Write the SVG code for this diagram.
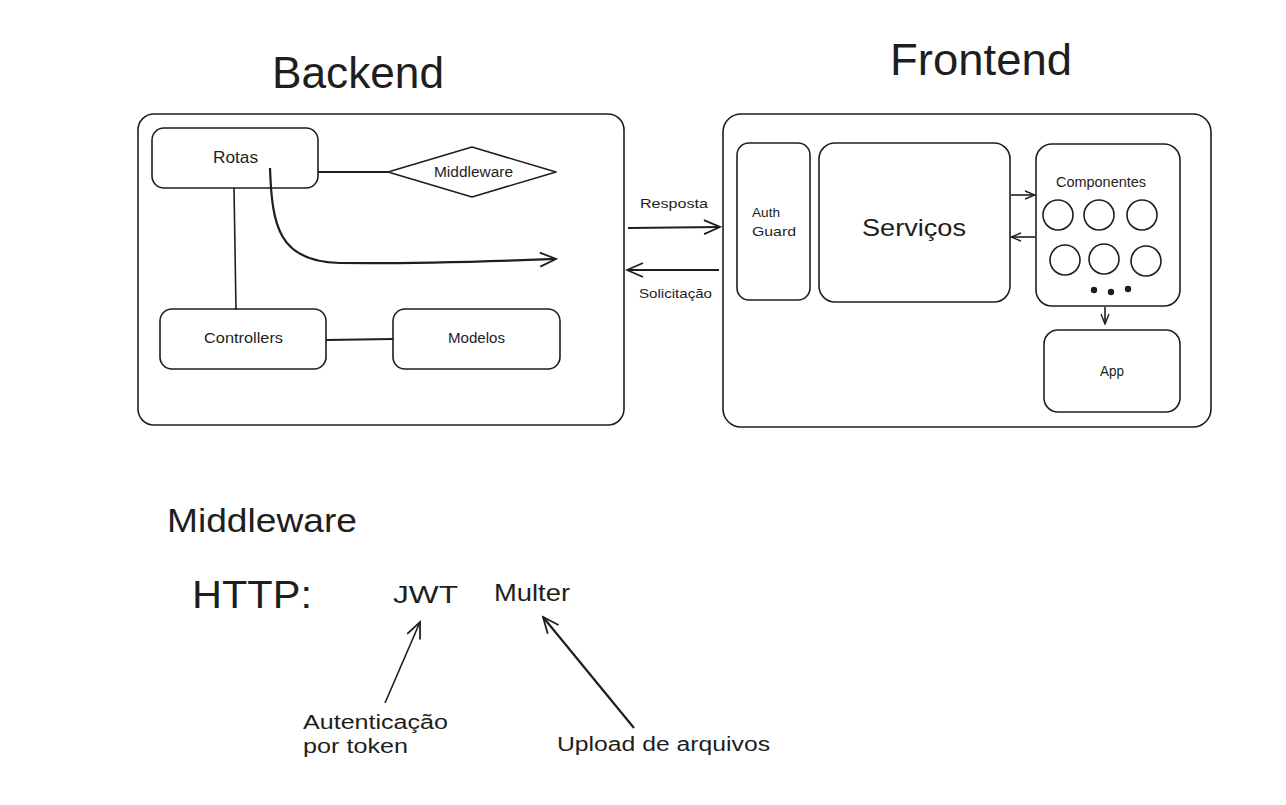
<svg xmlns="http://www.w3.org/2000/svg" width="1286" height="805" viewBox="0 0 1286 805">
<defs>
<style>
.box{fill:none;stroke:#1e1e1e;stroke-width:1.6}
.ln{fill:none;stroke:#1e1e1e;stroke-width:1.6}
.ln2{fill:none;stroke:#1e1e1e;stroke-width:2.2}
.t{font-family:"Liberation Sans",Arial,sans-serif;fill:#1e1e1e;text-anchor:start}
.dot{fill:#1e1e1e}
</style>
<marker id="ah" viewBox="0 0 20 20" refX="18" refY="10" markerWidth="20" markerHeight="20" markerUnits="userSpaceOnUse" orient="auto">
<path d="M2,3 L18,10 L2,17" fill="none" stroke="#1e1e1e" stroke-width="1.8"/>
</marker>
<marker id="ahs" viewBox="0 0 12 12" refX="11" refY="6" markerWidth="12" markerHeight="12" markerUnits="userSpaceOnUse" orient="auto">
<path d="M1,2 L11,6 L1,10" fill="none" stroke="#1e1e1e" stroke-width="1.4"/>
</marker>
</defs>
<rect width="1286" height="805" fill="#ffffff"/>

<g id="title-backend"><text class="t" x="272" y="88" font-size="44" textLength="172" lengthAdjust="spacingAndGlyphs">Backend</text></g>
<g id="title-frontend"><text class="t" x="890" y="75" font-size="44" textLength="182" lengthAdjust="spacingAndGlyphs">Frontend</text></g>

<g id="backend"><rect class="box" x="138" y="114" width="486" height="311" rx="16"/></g>
<g id="rotas"><rect class="box" x="152" y="128" width="166" height="60" rx="12"/><text class="t" x="213" y="163" font-size="16" textLength="45" lengthAdjust="spacingAndGlyphs">Rotas</text></g>
<g id="middleware-node"><path class="box" d="M388,172 L472,147 L556,172 L472,197 Z" stroke-linejoin="round"/><text class="t" x="434" y="177" font-size="14" textLength="79" lengthAdjust="spacingAndGlyphs">Middleware</text></g>
<g id="controllers"><rect class="box" x="160" y="309" width="166" height="60" rx="12"/><text class="t" x="204" y="343" font-size="15" textLength="79" lengthAdjust="spacingAndGlyphs">Controllers</text></g>
<g id="modelos"><rect class="box" x="393" y="309" width="167" height="60" rx="12"/><text class="t" x="448" y="343" font-size="15" textLength="57" lengthAdjust="spacingAndGlyphs">Modelos</text></g>

<g id="frontend"><rect class="box" x="723" y="114" width="488" height="313" rx="18"/></g>
<g id="auth-guard"><rect class="box" x="737" y="143" width="73" height="157" rx="12"/><text class="t" x="752" y="217" font-size="13" textLength="28" lengthAdjust="spacingAndGlyphs">Auth</text><text class="t" x="752" y="236" font-size="13" textLength="44" lengthAdjust="spacingAndGlyphs">Guard</text></g>
<g id="servicos"><rect class="box" x="819" y="143" width="191" height="159" rx="16"/><text class="t" x="862" y="236" font-size="24" textLength="104" lengthAdjust="spacingAndGlyphs">Serviços</text></g>
<g id="componentes"><rect class="box" x="1036" y="144" width="144" height="162" rx="16"/><text class="t" x="1056" y="187" font-size="14" textLength="90" lengthAdjust="spacingAndGlyphs">Componentes</text>
<circle class="box" cx="1058" cy="215" r="15"/><circle class="box" cx="1099" cy="215" r="15"/><circle class="box" cx="1142" cy="215" r="15"/>
<circle class="box" cx="1065" cy="260" r="15"/><circle class="box" cx="1104" cy="259" r="15"/><circle class="box" cx="1146" cy="261" r="15"/>
<circle class="dot" cx="1094" cy="290" r="3.2"/><circle class="dot" cx="1111" cy="292" r="3.2"/><circle class="dot" cx="1128" cy="289" r="3.2"/></g>
<g id="app"><rect class="box" x="1044" y="330" width="136" height="82" rx="14"/><text class="t" x="1100" y="376" font-size="14" textLength="24" lengthAdjust="spacingAndGlyphs">App</text></g>

<g id="notes">
<text class="t" x="167" y="532" font-size="34" textLength="190" lengthAdjust="spacingAndGlyphs">Middleware</text>
<text class="t" x="192" y="608" font-size="38" textLength="120" lengthAdjust="spacingAndGlyphs">HTTP:</text>
<text class="t" x="393" y="603" font-size="24" textLength="65" lengthAdjust="spacingAndGlyphs">JWT</text>
<text class="t" x="494" y="601" font-size="24" textLength="76" lengthAdjust="spacingAndGlyphs">Multer</text>
<text class="t" x="303" y="729" font-size="20" textLength="145" lengthAdjust="spacingAndGlyphs">Autenticação</text>
<text class="t" x="303" y="753" font-size="20" textLength="105" lengthAdjust="spacingAndGlyphs">por token</text>
<text class="t" x="557" y="751" font-size="20" textLength="213" lengthAdjust="spacingAndGlyphs">Upload de arquivos</text>
</g>

<g id="connectors">
<path class="ln2" d="M318,172 L388,172"/>
<path class="ln" d="M234,188 L236,310"/>
<path class="ln2" d="M326,340 L393,339"/>
<path class="ln2" d="M270,168 C272,225 278,262 340,263 C420,264 500,261 556,259" marker-end="url(#ah)"/>
<path class="ln2" d="M628,228 L720,227" marker-end="url(#ah)"/>
<text class="t" x="640" y="208" font-size="13" textLength="68" lengthAdjust="spacingAndGlyphs">Resposta</text>
<path class="ln2" d="M719,270 L627,270" marker-end="url(#ah)"/>
<text class="t" x="639" y="298" font-size="13" textLength="73" lengthAdjust="spacingAndGlyphs">Solicitação</text>
<path class="ln" d="M1011,195 L1035,195" marker-end="url(#ahs)"/>
<path class="ln" d="M1035,237 L1011,237" marker-end="url(#ahs)"/>
<path class="ln" d="M1105,307 L1105,324" marker-end="url(#ahs)"/>
<path class="ln" d="M385,703 L420,622" marker-end="url(#ah)"/>
<path class="ln2" d="M634,728 L543,617" marker-end="url(#ah)"/>
</g>
</svg>
